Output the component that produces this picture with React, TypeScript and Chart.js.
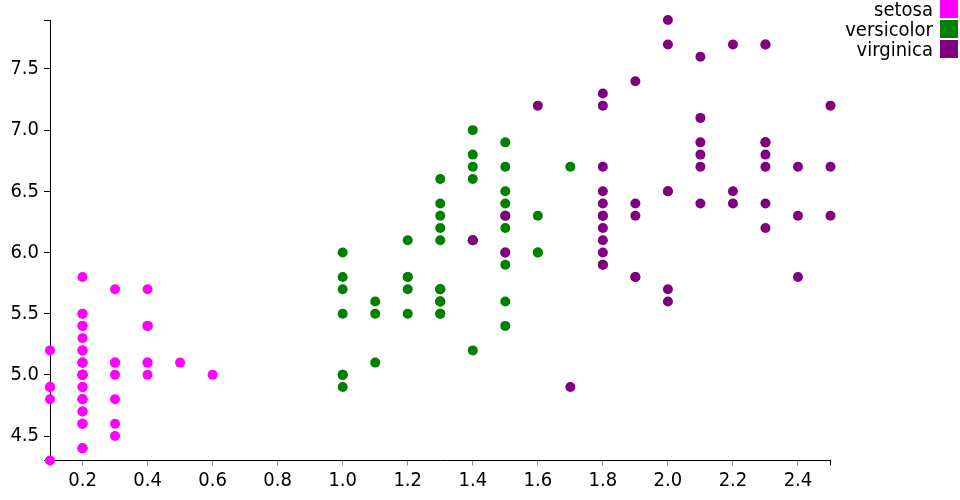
import React, { useEffect, useRef } from "react";
import { Chart, registerables } from "chart.js";

Chart.register(...registerables);

const speciesNames = ["setosa", "versicolor", "virginica"];
const speciesColors = ["#ff00ff", "#008000", "#800080"];

const setosaPetalWidth = [0.2,0.2,0.2,0.2,0.2,0.4,0.3,0.2,0.2,0.1,0.2,0.2,0.1,0.1,0.2,0.4,0.4,0.3,0.3,0.3,0.2,0.4,0.2,0.5,0.2,0.2,0.4,0.2,0.2,0.2,0.2,0.4,0.1,0.2,0.2,0.2,0.2,0.1,0.2,0.2,0.3,0.3,0.2,0.6,0.4,0.3,0.2,0.2,0.2,0.2];
const setosaSepalLength = [5.1,4.9,4.7,4.6,5.0,5.4,4.6,5.0,4.4,4.9,5.4,4.8,4.8,4.3,5.8,5.7,5.4,5.1,5.7,5.1,5.4,5.1,4.6,5.1,4.8,5.0,5.0,5.2,5.2,4.7,4.8,5.4,5.2,5.5,4.9,5.0,5.5,4.9,4.4,5.1,5.0,4.5,4.4,5.0,5.1,4.8,5.1,4.6,5.3,5.0];

const versicolorPetalWidth = [1.4,1.5,1.5,1.3,1.5,1.3,1.6,1.0,1.3,1.4,1.0,1.5,1.0,1.4,1.3,1.4,1.5,1.0,1.5,1.1,1.8,1.3,1.5,1.2,1.3,1.4,1.4,1.7,1.5,1.0,1.1,1.0,1.2,1.6,1.5,1.6,1.5,1.3,1.3,1.3,1.2,1.4,1.2,1.0,1.3,1.2,1.3,1.3,1.1,1.3];
const versicolorSepalLength = [7.0,6.4,6.9,5.5,6.5,5.7,6.3,4.9,6.6,5.2,5.0,5.9,6.0,6.1,5.6,6.7,5.6,5.8,6.2,5.6,5.9,6.1,6.3,6.1,6.4,6.6,6.8,6.7,6.0,5.7,5.5,5.5,5.8,6.0,5.4,6.0,6.7,6.3,5.6,5.5,5.5,6.1,5.8,5.0,5.6,5.7,5.7,6.2,5.1,5.7];

const virginicaPetalWidth = [2.5,1.9,2.1,1.8,2.2,2.1,1.7,1.8,1.8,2.5,2.0,1.9,2.1,2.0,2.4,2.3,1.8,2.2,2.3,1.5,2.3,2.0,2.0,1.8,2.1,1.8,1.8,1.8,2.1,1.6,1.9,2.0,2.2,1.5,1.4,2.3,2.4,1.8,1.8,2.1,2.4,2.3,1.9,2.3,2.5,2.3,1.9,2.0,2.3,1.8];
const virginicaSepalLength = [6.3,5.8,7.1,6.3,6.5,7.6,4.9,7.3,6.7,7.2,6.5,6.4,6.8,5.7,5.8,6.4,6.5,7.7,7.7,6.0,6.9,5.6,7.7,6.3,6.7,7.2,6.2,6.1,6.4,7.2,7.4,7.9,6.4,6.3,6.1,7.7,6.3,6.4,6.0,6.9,6.7,6.9,5.8,6.8,6.7,6.7,6.3,6.5,6.2,5.9];

const xTickValues = [0.2, 0.4, 0.6, 0.8, 1.0, 1.2, 1.4, 1.6, 1.8, 2.0, 2.2, 2.4];
const yTickValues = [4.5, 5.0, 5.5, 6.0, 6.5, 7.0, 7.5];
const xDomain = [0.1, 2.5];
const yDomain = [4.3, 7.9];

const FONT = "'DejaVu Sans Condensed', 'DejaVu Sans', sans-serif";

const pairs = (xs: number[], ys: number[]) => xs.map((x, i) => ({ x, y: ys[i] }));

const legendPlugin = {
  id: "customLegend",
  afterDraw(chart: any) {
    const ctx = chart.ctx;
    ctx.save();
    ctx.font = `20px ${FONT}`;
    ctx.textAlign = "right";
    ctx.textBaseline = "alphabetic";
    speciesNames.forEach((name, i) => {
      ctx.fillStyle = speciesColors[i];
      ctx.fillRect(940, i * 20, 18, 18);
      ctx.fillStyle = "#000";
      ctx.fillText(name, 933, i * 20 + 16);
    });
    ctx.restore();
  },
};

export default function App() {
  const ref = useRef<HTMLCanvasElement | null>(null);
  useEffect(() => {
    if (!ref.current) return;
    const seriesX = [setosaPetalWidth, versicolorPetalWidth, virginicaPetalWidth];
    const seriesY = [setosaSepalLength, versicolorSepalLength, virginicaSepalLength];
    const chart = new Chart(ref.current, {
      type: "scatter",
      data: {
        datasets: speciesNames.map((name, i) => ({
          label: name,
          data: pairs(seriesX[i], seriesY[i]),
          backgroundColor: speciesColors[i],
          borderWidth: 0,
          pointRadius: 5,
          pointHoverRadius: 5,
          order: 2 - i,
          clip: false as any,
        })),
      },
      options: {
        animation: false,
        responsive: false,
        events: [],
        layout: { padding: { top: 20, right: 129.5, left: 0, bottom: 0 } },
        plugins: { legend: { display: false }, tooltip: { enabled: false } },
        scales: {
          x: {
            type: "linear",
            min: xDomain[0],
            max: xDomain[1],
            z: 1,
            afterBuildTicks: (scale: any) => {
              scale.ticks = [xDomain[0], ...xTickValues, xDomain[1]].map((v) => ({ value: v }));
            },
            afterFit: (scale: any) => {
              scale.height = 39.5;
            },
            ticks: {
              autoSkip: false,
              maxRotation: 0,
              padding: 3,
              color: "#000",
              font: { family: FONT, size: 20 },
              callback: (v: any) => (xTickValues.includes(Number(v)) ? Number(v).toFixed(1) : ""),
            },
            grid: {
              drawOnChartArea: false,
              drawTicks: true,
              tickLength: 5,
              lineWidth: 1,
              color: (c: any) =>
                c.tick && (c.tick.value === xDomain[0] || c.tick.value === xDomain[1]) ? "#000" : "#888",
            },
            border: { display: true, color: "#000", width: 1 },
          },
          y: {
            type: "linear",
            min: yDomain[0],
            max: yDomain[1],
            z: 1,
            afterBuildTicks: (scale: any) => {
              scale.ticks = [yDomain[0], ...yTickValues, yDomain[1]].map((v) => ({ value: v }));
            },
            afterFit: (scale: any) => {
              scale.width = 50;
            },
            ticks: {
              autoSkip: false,
              padding: 5,
              color: "#000",
              font: { family: FONT, size: 20 },
              callback: (v: any) => (yTickValues.includes(Number(v)) ? Number(v).toFixed(1) : ""),
            },
            grid: {
              drawOnChartArea: false,
              drawTicks: true,
              tickLength: 6,
              lineWidth: 1,
              color: "#000",
            },
            border: { display: true, color: "#000", width: 1 },
          },
        },
      },
      plugins: [legendPlugin],
    });
    return () => chart.destroy();
  }, []);
  return (
    <div style={{ position: "absolute", left: 0, top: 0, width: 960, height: 500, background: "#fff" }}>
      <canvas ref={ref} width={960} height={500} style={{ width: 960, height: 500, display: "block" }} />
    </div>
  );
}
